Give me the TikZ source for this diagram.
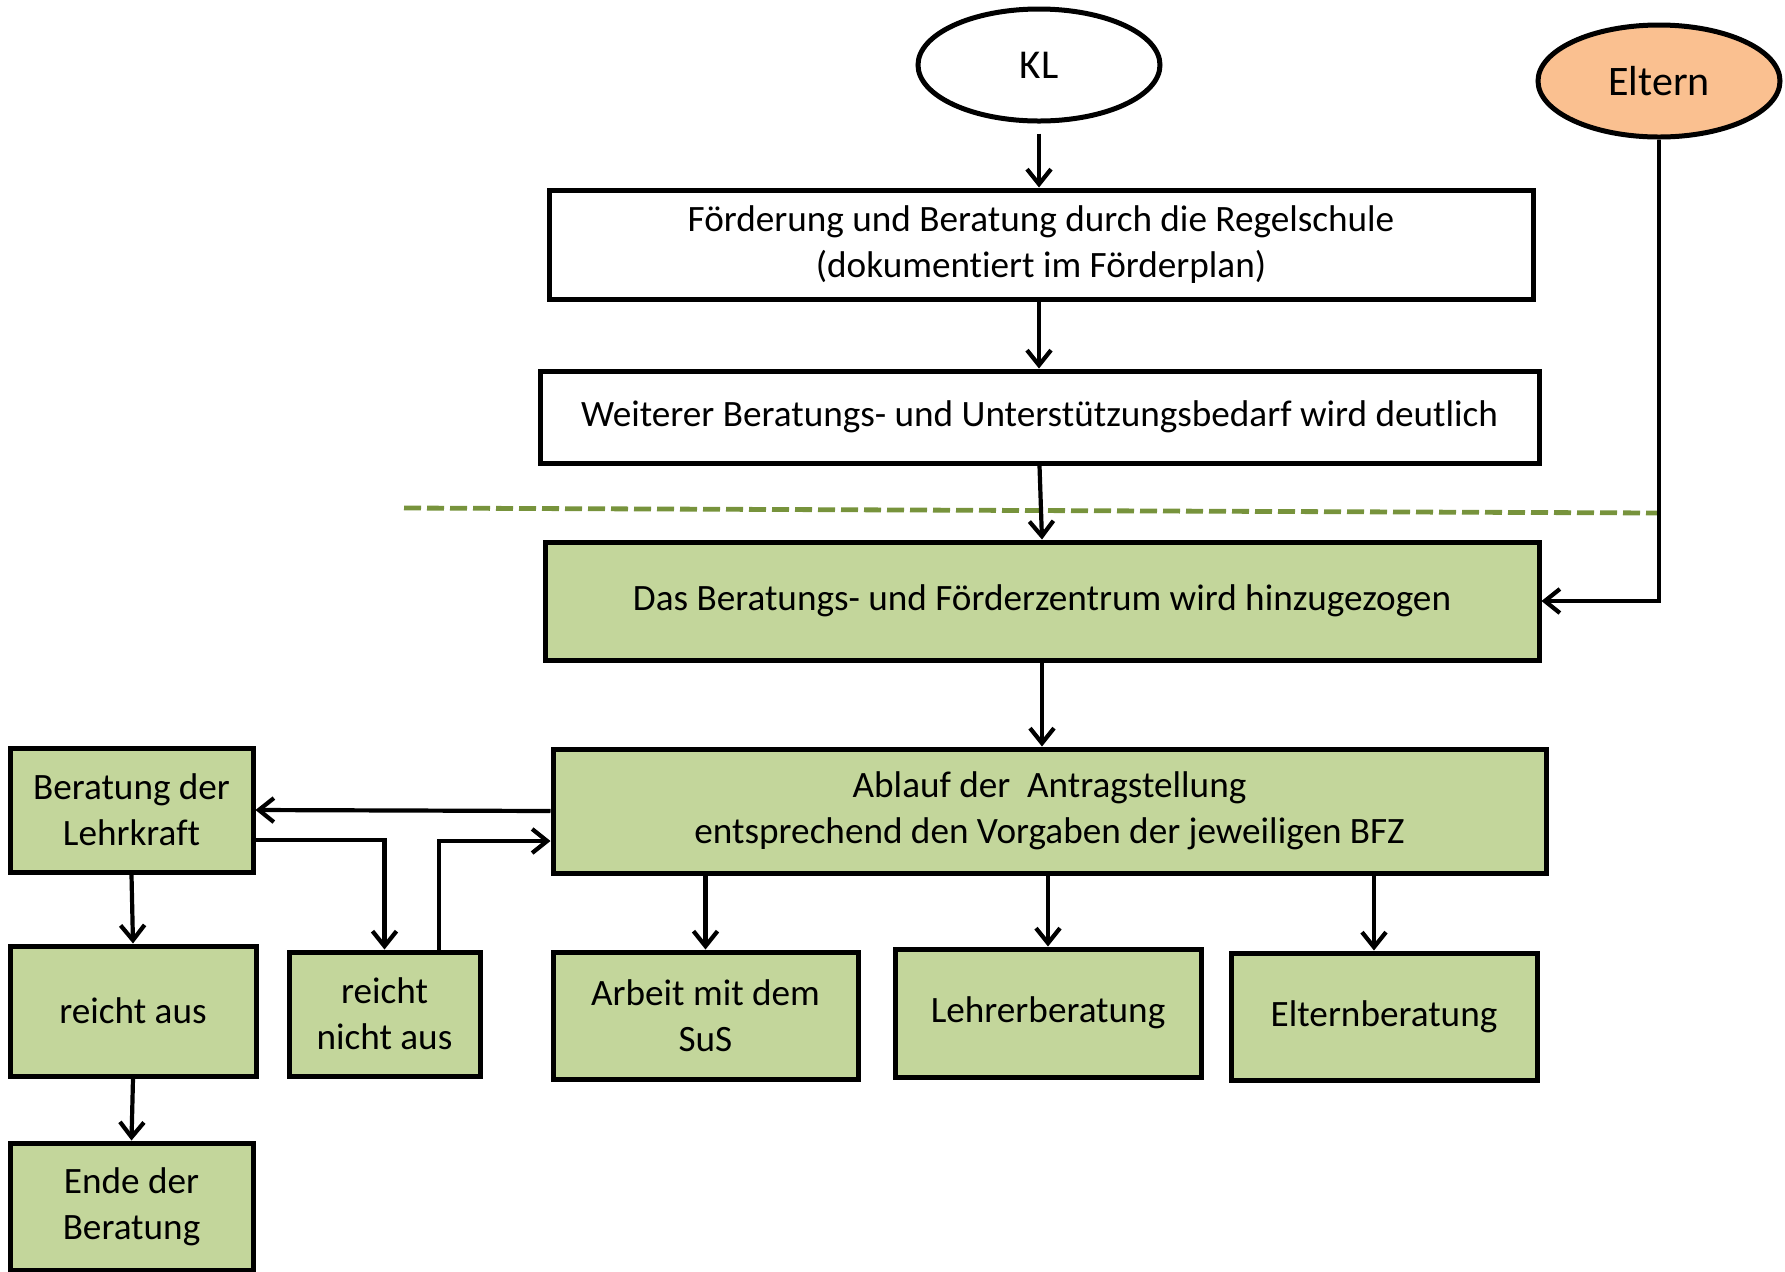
\documentclass[tikz,border=0pt]{standalone}
\usepackage{fontspec}
\setmainfont{Carlito}[Ligatures=CommonOff]
\usetikzlibrary{positioning,arrows.meta,shapes.geometric}
\definecolor{bfzgreen}{HTML}{C3D69B}
\definecolor{elternorange}{HTML}{FAC090}
\definecolor{linegreen}{HTML}{77933C}

\begin{document}
\begin{tikzpicture}[x=0.5pt,y=-0.5pt,line width=2.1pt,
    >={Straight Barb[length=7.5pt,width=12pt]},
    box/.style={draw,rectangle,line width=2.5pt,align=center,inner sep=2pt,
      font=\fontsize{18.6}{23}\selectfont},
    gbox/.style={box,fill=bfzgreen},
    oval/.style={draw,ellipse,line width=2.5pt,inner sep=0pt,
      minimum width=121pt,minimum height=56pt}]
  \useasboundingbox (0,0) rectangle (1785,1271);

  % top
  \node[oval,font=\fontsize{20.5}{24}\selectfont] (kl) at (1039,65) {KL};
  \node[oval,fill=elternorange,font=\fontsize{21}{25}\selectfont] (eltern) at (1659,81) {Eltern};
  \node[box,minimum width=492pt,minimum height=54.5pt] (foerderung) at (1041,244.5)
    {Förderung und Beratung durch die Regelschule\\(dokumentiert im Förderplan)};
  \node[box,minimum width=499.5pt,minimum height=46pt] (bedarf) at (1039.5,417)
    {Weiterer Beratungs- und Unterstützungsbedarf wird deutlich};

  % BFZ part
  \node[gbox,minimum width=497pt,minimum height=59pt] (bfz) at (1042,601)
    {Das Beratungs- und Förderzentrum wird hinzugezogen};
  \node[gbox,minimum width=496.5pt,minimum height=62pt] (ablauf) at (1049.5,811)
    {Ablauf der~ Antragstellung\\entsprechend den Vorgaben der jeweiligen BFZ};
  \node[gbox,minimum width=121.5pt,minimum height=62pt] (lehrkraft) at (131.5,810)
    {Beratung der\\Lehrkraft};
  \node[gbox,minimum width=123pt,minimum height=65pt] (reichtaus) at (133,1011) {reicht aus};
  \node[gbox,minimum width=95.5pt,minimum height=62pt] (reichtnicht) at (384.5,1014)
    {reicht\\nicht aus};
  \node[gbox,minimum width=121.5pt,minimum height=63.5pt] (ende) at (131.5,1206.5)
    {Ende der\\Beratung};
  \node[gbox,minimum width=152.5pt,minimum height=63.5pt] (arbeit) at (705.5,1015.5)
    {Arbeit mit dem\\SuS};
  \node[gbox,minimum width=153pt,minimum height=64pt] (lehrer) at (1048,1013) {Lehrerberatung};
  \node[gbox,minimum width=153pt,minimum height=63.5pt] (elternber) at (1384,1016.5) {Elternberatung};

  % separator
  \draw[linegreen,line width=2.4pt,dash pattern=on 8.5pt off 3pt] (404,508) -- (eltern.south |- 0,513);

  % arrows
  \draw[->,shorten <=5pt] (kl.south) -- (kl.south |- foerderung.north);
  \draw[->] (foerderung.south -| kl.south) -- (bedarf.north -| kl.south);
  \draw[->] (bedarf.south) -- (bfz.north);
  \draw[->] (bfz.south) -- (bfz.south |- ablauf.north);
  \draw[->] (eltern.south) |- (bfz.east);
  \draw[->] (ablauf.west) -- (lehrkraft.east);
  \draw[->] (lehrkraft.east |- 0,840) -| (reichtnicht.north);
  \draw[->] (reichtnicht.north -| 439,0) |- (ablauf.west |- 0,841);
  \draw[->] (lehrkraft.south) -- (reichtaus.north);
  \draw[->] (reichtaus.south) -- (ende.north);
  \draw[->] (ablauf.south -| arbeit.north) -- (arbeit.north);
  \draw[->] (ablauf.south -| lehrer.north) -- (lehrer.north);
  \draw[->] (ablauf.south -| 1374,0) -- (elternber.north -| 1374,0);
\end{tikzpicture}
\end{document}
